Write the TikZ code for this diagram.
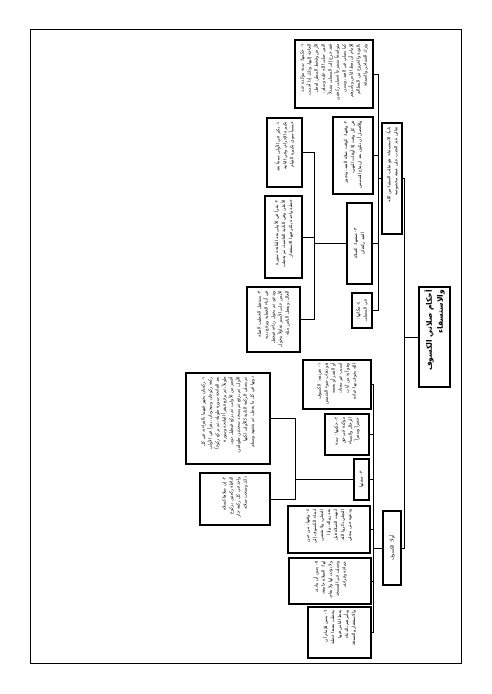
\documentclass[tikz,border=0pt]{standalone}
\usepackage{fontspec}
\newfontfamily\arabicfont[Script=Arabic]{DejaVu Sans}
\TeXXeTstate=1
\newcommand\arline[1]{\beginR #1\endR}
\tikzset{
  box/.style={draw, line width=1.1pt, inner sep=0pt},
  txt/.style={rotate=90, inner sep=0pt, align=right, font=\arabicfont\fontsize{4.4}{7}\selectfont},
  ctxt/.style={txt, align=center},
  link/.style={line width=0.9pt},
}
\begin{document}
\begin{tikzpicture}[x=1pt,y=-1pt]
\useasboundingbox (0,0) rectangle (491,694);
\draw[line width=0.9pt] (30,29.5) rectangle (461,663);

% title
\node[box, minimum width=31pt, minimum height=100pt] (T) at (434.5,337) {};
\node[txt, text width=94pt, font=\arabicfont\bfseries\fontsize{7.6}{11}\selectfont] at (T) {\arline{أحكام صلاتي الكسوف}\\\arline{والاستسقاء}};

% upper branch
\node[box, minimum width=20pt, minimum height=111pt] (A) at (392,178.5) {};
\node[txt, text width=103pt] at (A) {\arline{ثانياً: الاستسقاء: هو طلب السقيا من الله تعالى عند الجدب على صفة مخصوصة}};

\node[box, minimum width=78pt, minimum height=68pt] (B1) at (334,74) {};
\node[txt, text width=60pt] at (B1) {\arline{١- حكمها: سنة مؤكدة عند الحاجة إليها، وذلك إذا أجدبت الأرض وقحط المطر، لفعل النبي صلى الله عليه وسلم، فقد خرج إلى المصلى متبذلاً متواضعاً متضرعاً فصلى ركعتين كما يصلي في العيد، ويسن للإمام أن يعظ الناس ويأمرهم بالتوبة والخروج من المظالم وترك التشاحن والصدقة}};

\node[box, minimum width=40pt, minimum height=77pt] (B2) at (353,155.5) {};
\node[txt, text width=69pt] at (B2) {\arline{٢- وقتها: كوقت صلاة العيد، وتجوز في كل وقت إلا أوقات النهي، والأفضل أن تكون بعد ارتفاع الشمس}};

\node[box, minimum width=25pt, minimum height=81pt] (B3) at (359.5,243.5) {};
\node[ctxt, text width=44pt] at (B3) {\arline{٣- صفتها: كصلاة العيد ركعتان}};

\node[box, minimum width=20pt, minimum height=35pt] (B4) at (362,310.5) {};
\node[ctxt, text width=29pt] at (B4) {\arline{٤- مكانها: في المصلى}};

\node[box, minimum width=35pt, minimum height=69pt] (C1) at (284.5,152.5) {};
\node[txt, text width=61pt] at (C1) {\arline{١- يكبر في الأولى سبعاً بعد تكبيرة الإحرام، وفي الثانية خمساً سوى تكبيرة القيام}};

\node[box, minimum width=37pt, minimum height=82pt] (C2) at (283.5,237) {};
\node[txt, text width=74pt] at (C2) {\arline{٢- يقرأ في الأولى بعد الفاتحة سورة الأعلى وفي الثانية الغاشية، ثم يخطب خطبة واحدة يكثر فيها الاستغفار}};

\node[box, minimum width=53pt, minimum height=65pt] (C3) at (273.5,319.5) {};
\node[txt, text width=57pt] at (C3) {\arline{٣- يستقبل الخطيب القبلة في أثناء الخطبة ويرفع يديه ويدعو، ثم يحول رداءه فيجعل الأيمن على الأيسر تفاؤلاً بتحول الحال، ويفعل الناس مثله}};

% lower branch
\node[box, minimum width=18pt, minimum height=74pt] (L) at (392,548) {};
\node[ctxt, text width=66pt] at (L) {\arline{أولاً: الكسوف}};

\node[box, minimum width=68pt, minimum height=49pt] (D1) at (337,384.5) {};
\node[txt, text width=42pt] at (D1) {\arline{١- تعريفه: الكسوف هو ذهاب ضوء الشمس أو القمر أو بعضه لسبب غير معتاد، وهو آية من آيات الله يخوف بها عباده}};

\node[box, minimum width=44pt, minimum height=41pt] (D2) at (347,434.5) {};
\node[txt, text width=34pt] at (D2) {\arline{٢- حكمها: سنة مؤكدة في حق الرجال والنساء حضراً وسفراً}};

\node[box, minimum width=15pt, minimum height=41pt] (D3) at (361.5,479.5) {};
\node[ctxt, text width=34pt] at (D3) {\arline{٣- صفتها}};

\node[box, minimum width=82pt, minimum height=47pt] (D4) at (329,529.5) {};
\node[txt, text width=40pt] at (D4) {\arline{٤- وقتها: من حين ابتداء الكسوف إلى التجلي، ولا تقضى بعد زواله، وإذا انتهت الصلاة قبل التجلي ذكروا الله ودعوه حتى ينجلي}};

\node[box, minimum width=82pt, minimum height=46pt] (D5) at (330,581) {};
\node[txt, text width=39pt] at (D5) {\arline{٥- يسن أن ينادى لها: الصلاة جامعة، ولا يؤذن لها ولا يقام، وتصلى في المسجد جماعة وفرادى}};

\node[box, minimum width=63pt, minimum height=51pt] (D6) at (339.5,632.5) {};
\node[txt, text width=44pt] at (D6) {\arline{٦- يسن للإمام أن يخطب بعدها خطبة يعظ الناس فيها ويأمرهم بالدعاء والاستغفار والصدقة}};

\node[box, minimum width=84pt, minimum height=91pt] (E1) at (228,418.5) {};
\node[txt, text width=83pt] at (E1) {\arline{١- ركعتان يجهر فيهما بالقراءة، في كل ركعة ركوعان وسجودان، يقرأ في الأولى بعد الفاتحة سورة طويلة، ثم يركع ركوعاً طويلاً، ثم يرفع فيقرأ الفاتحة وسورة أقصر من الأولى، ثم يركع فيطيل دون الأول، ثم يرفع ثم يسجد سجدتين طويلتين، ثم يصلي الركعة الثانية كالأولى لكنها دونها في كل ما يفعل، ثم يتشهد ويسلم}};

\node[box, minimum width=70pt, minimum height=52pt] (E2) at (235,499) {};
\node[txt, text width=44pt] at (E2) {\arline{٢- إن صلاها كصلاة النافلة ركعتين بركوع واحد في كل ركعة جاز ذلك وصحت صلاته}};

% connectors
\coordinate (trunk) at (404,337);
\coordinate (busB) at (378,178.5);
\coordinate (busC) at (314,243.5);
\coordinate (busD) at (373,548);
\coordinate (busE) at (295,479.5);

\draw[link] (T) -- (trunk);
\draw[link] (trunk) |- (A);
\draw[link] (trunk) |- (L);

\draw[link] (A) -- (busB);
\foreach \n in {B1,B2,B3,B4} \draw[link] (busB) |- (\n);

\draw[link] (B3) -- (busC);
\foreach \n in {C1,C2,C3} \draw[link] (busC) |- (\n);

\draw[link] (L) -- (busD);
\foreach \n in {D1,D2,D3,D4,D5,D6} \draw[link] (busD) |- (\n);

\draw[link] (D3) -- (busE);
\foreach \n in {E1,E2} \draw[link] (busE) |- (\n);
\end{tikzpicture}
\end{document}
